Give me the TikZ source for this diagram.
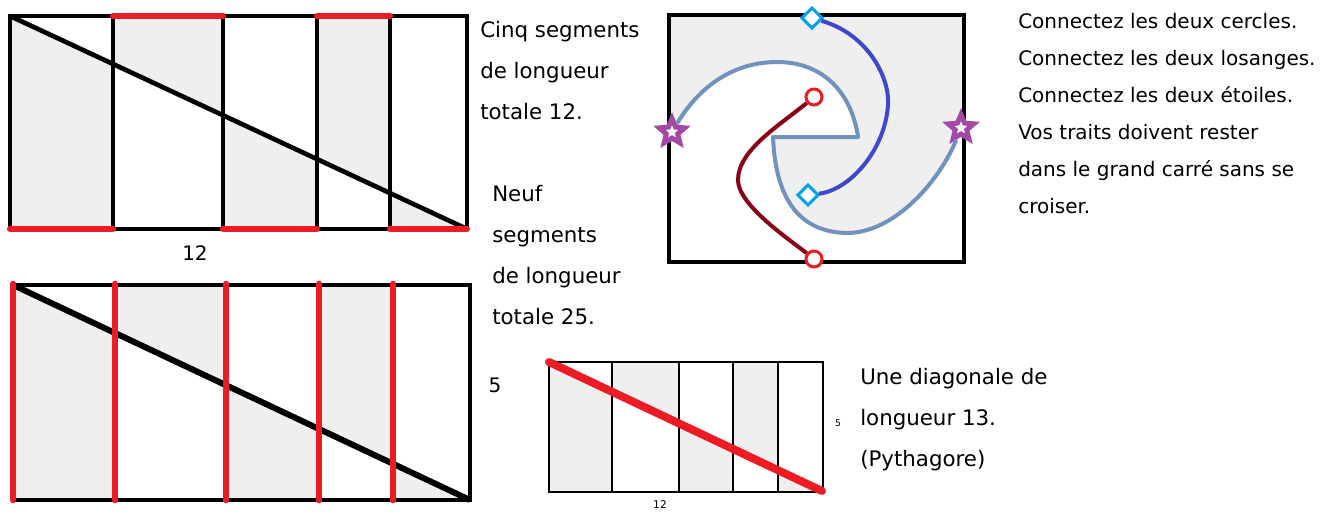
\documentclass[tikz,border=0pt]{standalone}
\usepackage{fontspec}
\setmainfont{DejaVu Sans}
\usepackage{tikz}
\usetikzlibrary{shapes.geometric}

\definecolor{paintred}{HTML}{ED1C24}
\definecolor{wine}{HTML}{880015}
\definecolor{indigoline}{HTML}{3F48CC}
\definecolor{turq}{HTML}{00A2E8}
\definecolor{plum}{HTML}{A349A4}
\definecolor{steel}{HTML}{7092BE}
\definecolor{paper}{HTML}{EFEFEF}

\begin{document}
\begin{tikzpicture}[x=0.75pt, y=-0.75pt,
    frame/.style={line width=3pt},
    thinframe/.style={line width=1.5pt},
    redseg/.style={paintred, line width=4.5pt, line cap=round},
    txt/.style={anchor=north west, inner sep=0pt, align=left, font=\fontsize{16}{30.75}\selectfont},
    ring/.style={circle, draw=paintred, line width=2.25pt, fill=white, minimum size=12pt, inner sep=0pt},
    lozenge/.style={diamond, draw=turq, line width=2.25pt, fill=white, minimum size=16pt, inner sep=0pt},
    starmark/.style={star, star points=5, star point ratio=2.2, draw=plum, line width=3.75pt, fill=white, minimum size=20pt, inner sep=0pt}]
    \useasboundingbox (0,0) rectangle (1320,514);

    % five segments
    \begin{scope}
        \clip (10,16) -- (467,229) -- (10,229) -- cycle;
        \foreach \a/\b in {10/113, 223/317, 390/467} \fill[paper] (\a,16) rectangle (\b,229);
    \end{scope}
    \begin{scope}
        \clip (10,16) -- (467,229) -- (467,16) -- cycle;
        \foreach \a/\b in {113/223, 317/390} \fill[paper] (\a,16) rectangle (\b,229);
    \end{scope}
    \draw[frame] (10,16) rectangle (467,229);
    \foreach \x in {113,223,317,390} \draw[frame] (\x,16) -- (\x,229);
    \draw[line width=3.5pt] (10,16) -- (467,229);
    \foreach \a/\b in {113/223, 317/390} \draw[redseg] (\a,16) -- (\b,16);
    \foreach \a/\b in {10/113, 223/317, 390/467} \draw[redseg] (\a,229) -- (\b,229);
    \node[font=\fontsize{15}{17}\selectfont] (lenA) at (195,253) {12};

    % nine segments
    \begin{scope}
        \clip (13,285) -- (470,500) -- (13,500) -- cycle;
        \foreach \a/\b in {13/115, 226/319, 393/470} \fill[paper] (\a,285) rectangle (\b,500);
    \end{scope}
    \begin{scope}
        \clip (13,285) -- (470,500) -- (470,285) -- cycle;
        \foreach \a/\b in {115/226, 319/393} \fill[paper] (\a,285) rectangle (\b,500);
    \end{scope}
    \draw[frame] (13,285) rectangle (470,500);
    \draw[line width=4.5pt] (13,285) -- (470,500);
    \foreach \x in {13,115,226,319,393} \draw[redseg, line width=5pt] (\x,284) -- (\x,500);
    \node[font=\fontsize{15}{17}\selectfont] (sideB) at (495,385) {5};

    % diagonal
    \begin{scope}
        \clip (549,362) -- (823,492) -- (549,492) -- cycle;
        \foreach \a/\b in {549/612, 679/733, 778/823} \fill[paper] (\a,362) rectangle (\b,492);
    \end{scope}
    \begin{scope}
        \clip (549,362) -- (823,492) -- (823,362) -- cycle;
        \foreach \a/\b in {612/679, 733/778} \fill[paper] (\a,362) rectangle (\b,492);
    \end{scope}
    \draw[thinframe] (549,362) rectangle (823,492);
    \foreach \x in {612,679,733,778} \draw[thinframe] (\x,362) -- (\x,492);
    \draw[redseg, line width=6pt] (549,362) -- (822,491);
    \node[font=\fontsize{7}{8}\selectfont] (sideC) at (838,423) {5};
    \node[font=\fontsize{8}{9}\selectfont] (lenC) at (660,505) {12};

    % square puzzle
    \fill[paper] (672,132) .. controls (700,85) and (735,62) .. (777,62) .. controls (825,62) and (852,95) .. (858,137)
        -- (773,137) .. controls (775,185) and (790,232) .. (847,233) .. controls (895,233) and (940,180) .. (961,128)
        -- (964,128) -- (964,15) -- (669,15) -- (669,132) -- cycle;
    \draw[frame] (669,15) rectangle (964,262);
    \node[starmark] (starL) at (672,132) {};
    \node[starmark] (starR) at (961,128) {};
    \node[lozenge] (lozT) at (812,18) {};
    \node[lozenge] (lozB) at (808,195) {};
    \node[ring] (ringT) at (814,97) {};
    \node[ring] (ringB) at (814,259) {};
    \draw[steel, line width=3pt, line join=round] (starL) .. controls (700,85) and (735,62) .. (777,62) .. controls (825,62) and (852,95) .. (858,137)
        -- (773,137) .. controls (775,185) and (790,232) .. (847,233) .. controls (895,233) and (940,180) .. (starR);
    \draw[indigoline, line width=3pt] (lozT) .. controls (870,35) and (890,80) .. (888,105) .. controls (885,150) and (850,190) .. (lozB);
    \draw[wine, line width=3pt] (ringT) .. controls (780,125) and (738,150) .. (738,180) .. controls (738,205) and (790,240) .. (ringB);

    % texts
    \node[txt] (cinq) at (480,21) {Cinq segments\\de longueur\\totale 12.};
    \node[txt] (neuf) at (492,185) {Neuf\\segments\\de longueur\\totale 25.};
    \node[txt] (diag) at (860,368) {Une diagonale de\\longueur 13.\\(Pythagore)};
    \node[txt, font=\fontsize{15}{27.75}\selectfont] (rules) at (1018,13) {Connectez les deux cercles.\\Connectez les deux losanges.\\Connectez les deux étoiles.\\Vos traits doivent rester\\dans le grand carré sans se\\croiser.};
\end{tikzpicture}
\end{document}
